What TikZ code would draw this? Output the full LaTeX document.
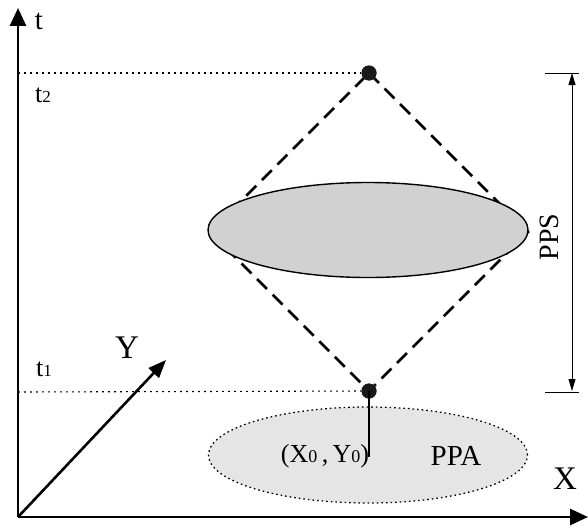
\documentclass[tikz,border=0pt]{standalone}
\usepackage{fontspec}
\setmainfont{Liberation Serif}
\usetikzlibrary{arrows.meta,shapes.geometric}
\newcommand{\fs}[1]{\fontsize{#1}{#1}\selectfont}
\tikzset{
  axis/.style={line width=2.8pt,-{Triangle[length=18pt,width=16pt]}},
  dotline/.style={line width=1.1pt,dash pattern=on 1.8pt off 4.2pt},
  conedash/.style={line width=2.6pt,dash pattern=on 14pt off 8pt},
  evdot/.style={circle,fill=black!90,inner sep=0pt,minimum size=15pt},
  lbl/.style={inner sep=0pt,anchor=center},
}
\begin{document}
\begin{tikzpicture}[x=1pt,y=-1pt]
\useasboundingbox (0,0) rectangle (588,527);
\coordinate (O) at (18,517);
\coordinate (ttip) at (18,8);
\coordinate (xtip) at (588,517);
\coordinate (ytip) at (166,360);
\coordinate (t2) at (18,73);
\coordinate (t1) at (18,392);
\coordinate (L) at (210,232);
\coordinate (R) at (528,232);
\coordinate (foot) at (369,457);
% PPA ellipse
\node[ellipse,draw,fill=black!10,line width=1.3pt,dash pattern=on 1.6pt off 3pt,
  minimum width=319pt,minimum height=96pt,inner sep=0pt] (ppa) at (368,455) {};
% axes
\draw[axis] (O) -- (ttip);
\draw[axis] (O) -- (xtip);
\draw[line width=2.6pt,-{Triangle[length=18pt,width=14pt]}] (O) -- (ytip);
% dotted time lines
\node[evdot] (top) at (369,73) {};
\node[evdot] (bot) at (369,391) {};
\draw[dotline] (t2) -- (top);
\draw[dotline] (t1) -- (bot);
% cone (diamond)
\draw[conedash] (top.center) -- (R) -- (bot.center) -- (L) -- cycle;
% PPS ellipse
\node[ellipse,draw,fill=black!18,line width=1.4pt,
  minimum width=320pt,minimum height=95pt,inner sep=0pt] (pps) at (368,230) {};
\node[evdot] at (top) {};
\node[evdot] at (bot) {};
% vertical line to (X0,Y0)
\draw[line width=1.3pt] (bot.center) -- (foot);
% PPS dimension
\coordinate (ptop) at (572,73);
\coordinate (pbot) at (572,391);
\draw[line width=0.9pt] (545,73) -- (579,73);
\draw[line width=0.9pt] (545,392) -- (579,392);
\draw[line width=0.9pt,{Triangle[length=12pt,width=7pt]}-{Triangle[length=12pt,width=7pt]}] (ptop) -- (pbot);
% labels
\node[lbl] (tl) at (39,21) {\fs{29}t};
\node[lbl] (t2l) at (43,95) {\fs{26}t{\fs{17}2}};
\node[lbl] (t1l) at (44,369) {\fs{26}t{\fs{17}1}};
\node[lbl] (yl) at (127,348) {\fs{33}Y};
\node[lbl] (xl) at (565,479) {\fs{33}X};
\node[lbl] (ppsl) at (549,237) [rotate=90] {\fs{28}PPS};
\node[lbl] (ppal) at (456,456) {\fs{29}PPA};
\node[lbl] (x0l) at (325,456) {\fs{26}(X{\fs{18}0}\,,\,Y{\fs{18}0})};
\end{tikzpicture}
\end{document}
